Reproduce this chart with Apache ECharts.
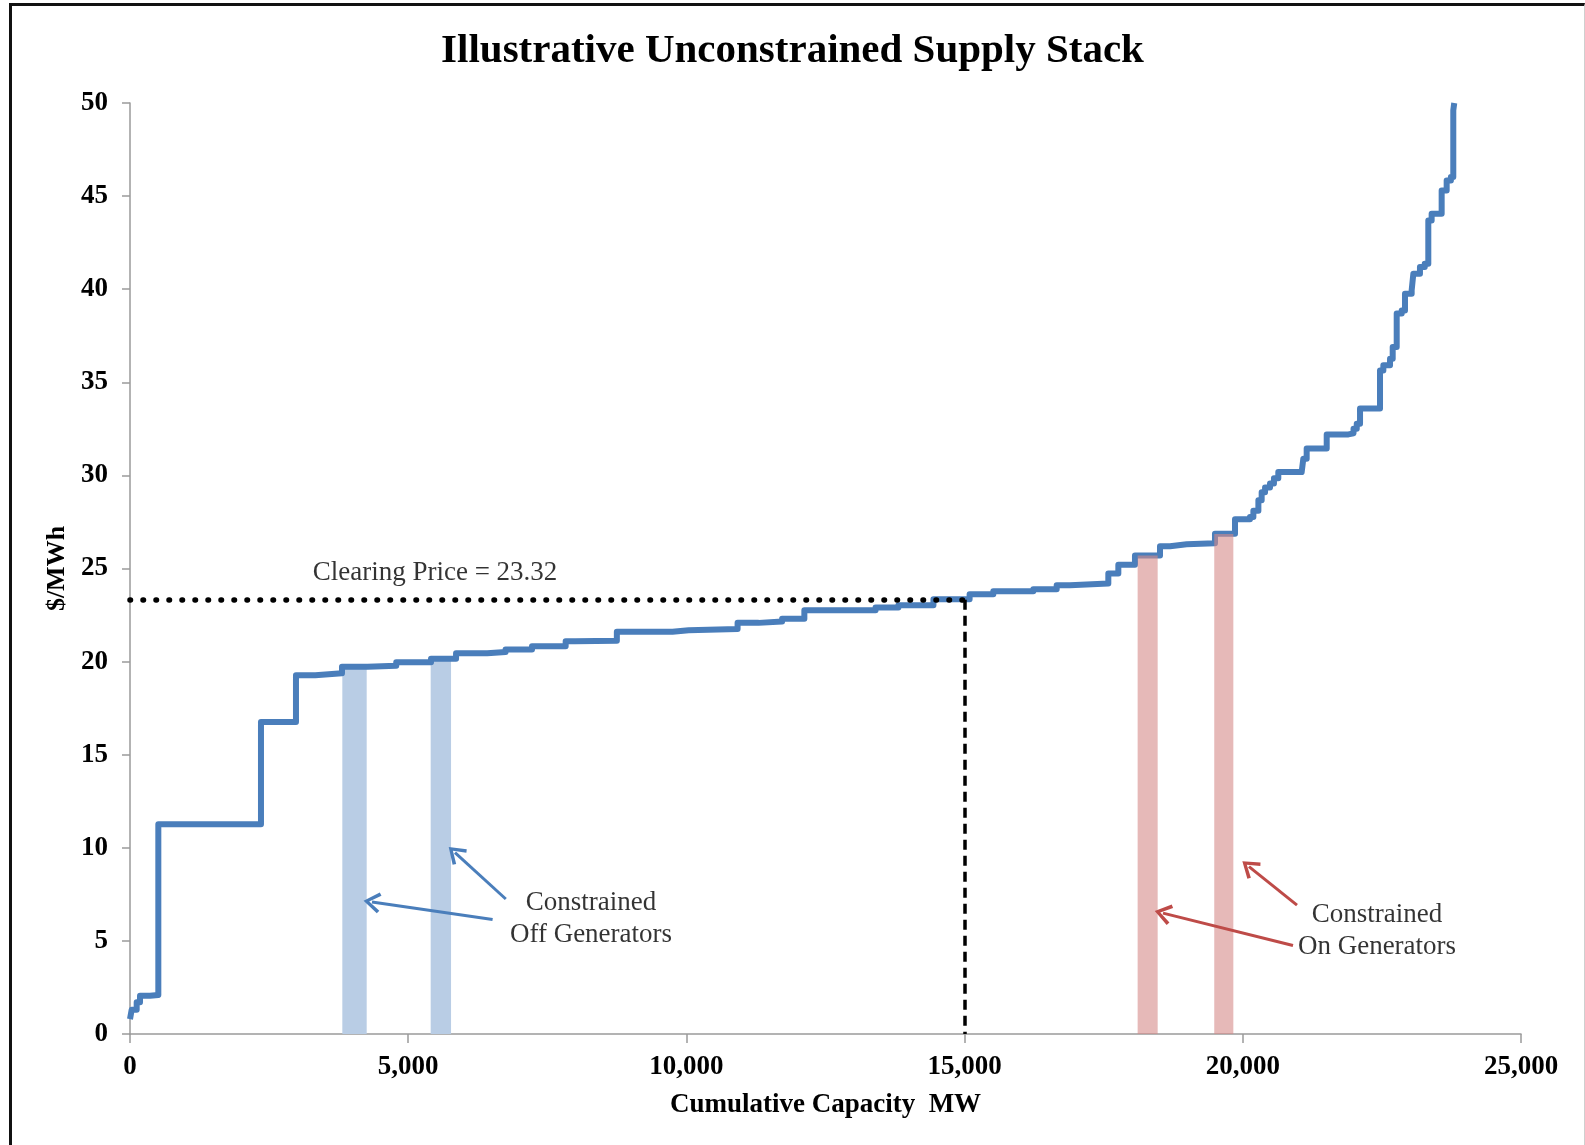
<!DOCTYPE html>
<html>
<head>
<meta charset="utf-8">
<title>Illustrative Unconstrained Supply Stack</title>
<script src="https://cdn.jsdelivr.net/npm/echarts@6/dist/echarts.min.js"></script>
<style>
  html, body { margin: 0; padding: 0; background: #fff; }
  #chart { position: absolute; left: 0; top: 0; width: 1585px; height: 1145px; }
  #frame {
    position: absolute; left: 9px; top: 3px; width: 1576px; height: 1150px;
    box-sizing: border-box; pointer-events: none;
    border-top: 3px solid #111; border-left: 3px solid #111; border-right: 1px solid #cfcfcf;
  }
</style>
</head>
<body>
<div id="chart"></div>
<div id="frame"></div>
<script>
  // supply stack: cumulative MW where each price level starts, and its $/MWh
  const capacityMW = [0, 30, 120, 180, 360, 509, 2354, 2983, 3330, 3810, 4270, 4785, 5410, 5860,
    6420, 6750, 7225, 7830, 8000, 8750, 9750, 10040, 10920, 11300, 11720, 12120, 13400, 13810,
    14440, 15090, 15516, 16235, 16655, 16894, 17583, 17763, 18062, 18512, 18692, 18991, 19500,
    19860, 20129, 20190, 20280, 20339, 20400, 20489, 20560, 20638, 21058, 21088, 21148, 21508,
    21898, 21990, 22048, 22107, 22466, 22526, 22646, 22694, 22766, 22856, 22915, 23035, 23065,
    23184, 23270, 23334, 23394, 23574, 23664, 23740, 23783, 23800]
  const priceUSD = [0.8, 1.3, 1.7, 2.05, 2.1, 11.26, 16.76, 19.27, 19.37, 19.72, 19.78, 19.97, 20.15, 20.45,
    20.52, 20.65, 20.83, 21.09, 21.12, 21.6, 21.68, 21.75, 22.08, 22.15, 22.3, 22.76, 22.9, 23.03,
    23.35, 23.62, 23.78, 23.89, 24.1, 24.2, 24.73, 25.2, 25.7, 26.2, 26.3, 26.35, 26.87,
    27.65, 27.77, 28.1, 28.66, 29.1, 29.35, 29.56, 29.85, 30.18, 30.27, 30.9, 31.44, 32.2,
    32.26, 32.5, 32.78, 33.59, 35.64, 35.91, 36.27, 36.9, 38.69, 38.86, 39.76, 39.94, 40.83,
    41.19, 41.37, 43.69, 44.05, 45.3, 45.84, 46.02, 49.6, 50]

  const clearingPrice = 23.32
  const clearingMW = 15000

  // [from MW, to MW, price at top]
  const offBands = [[3816, 4254, 19.75], [5404, 5770, 20.05]]
  const onBands = [[18110, 18470, 25.7], [19487, 19830, 26.85]]

  // annotation arrows: [tail, head] in [MW, $/MWh]
  const offArrows = [[[6517, 6.15], [4349, 7.09]], [[6754, 7.25], [5841, 9.74]]]
  const onArrows = [[[20902, 4.75], [18566, 6.49]], [[20974, 6.92], [20111, 8.99]]]

  // text labels: [MW, $/MWh, text]
  const notes = [
    [5482, 24.74, 'Clearing Price = ' + clearingPrice],
    [8285, 6.17, 'Constrained\nOff Generators'],
    [22412, 5.53, 'Constrained\nOn Generators']
  ]

  const xTicks = { min: 0, max: 25000, interval: 5000 }
  const yTicks = { min: 0, max: 50, interval: 5 }

  const serif = "'Times New Roman', 'Liberation Serif', serif"
  const axisGray = '#9a9a9a'
  const chevron = 'path://M5,0 L10,8.4 L8.6,9.6 L5,3.2 L1.4,9.6 L0,8.4 Z'

  const chart = echarts.init(document.getElementById('chart'))

  function bandSeries(bands, color, z) {
    return {
      type: 'custom',
      z: z,
      silent: true,
      data: bands,
      renderItem: (params, api) => {
        const p0 = api.coord([api.value(0), api.value(2)])
        const p1 = api.coord([api.value(1), 0])
        return {
          type: 'rect',
          shape: { x: p0[0], y: p0[1], width: p1[0] - p0[0], height: p1[1] - p0[1] },
          style: { fill: color }
        }
      }
    }
  }

  function arrowLines(arrows, color) {
    return {
      silent: true,
      symbol: ['none', chevron],
      symbolSize: [21, 17],
      label: { show: false },
      lineStyle: { color: color, width: 3, type: 'solid' },
      data: arrows.map(a => [{ coord: a[0] }, { coord: a[1] }])
    }
  }

  chart.setOption({
    animation: false,
    title: {
      text: 'Illustrative Unconstrained Supply Stack',
      left: 'center',
      top: 26,
      textStyle: { fontFamily: serif, fontSize: 41, fontWeight: 'bold', color: '#000' }
    },
    grid: { left: 130, right: 64, top: 103, bottom: 111 },
    xAxis: {
      type: 'value',
      min: xTicks.min,
      max: xTicks.max,
      interval: xTicks.interval,
      name: 'Cumulative Capacity  MW',
      nameLocation: 'middle',
      nameGap: 58,
      nameTextStyle: { fontFamily: serif, fontSize: 27, fontWeight: 'bold', color: '#000' },
      axisLine: { lineStyle: { color: axisGray, width: 1.5 } },
      axisTick: { show: true, length: 9, lineStyle: { color: axisGray, width: 1.5 } },
      splitLine: { show: false },
      axisLabel: {
        margin: 20,
        fontFamily: serif, fontSize: 27, fontWeight: 'bold', color: '#000',
        formatter: v => v.toLocaleString('en-US')
      }
    },
    yAxis: {
      type: 'value',
      min: yTicks.min,
      max: yTicks.max,
      interval: yTicks.interval,
      name: '$/MWh',
      nameLocation: 'middle',
      nameGap: 58,
      nameTextStyle: { fontFamily: serif, fontSize: 26, fontWeight: 'bold', color: '#000' },
      axisLine: { show: true, lineStyle: { color: axisGray, width: 1.5 } },
      axisTick: { show: true, length: 8, lineStyle: { color: axisGray, width: 1.5 } },
      splitLine: { show: false },
      axisLabel: { margin: 22, fontFamily: serif, fontSize: 27, fontWeight: 'bold', color: '#000' }
    },
    series: [
      bandSeries(offBands, '#b9cde5', 1),
      {
        name: 'Supply',
        type: 'line',
        z: 2,
        step: 'end',
        showSymbol: false,
        silent: true,
        data: capacityMW.map((mw, i) => [mw, priceUSD[i]]),
        lineStyle: { color: '#4a7ebb', width: 6, join: 'round' }
      },
      bandSeries(onBands, 'rgba(213,138,137,0.6)', 3),
      {
        name: 'Clearing',
        type: 'line',
        z: 4,
        data: [],
        markLine: {
          silent: true,
          symbol: ['none', 'none'],
          label: { show: false },
          data: [
            [{ coord: [0, clearingPrice], lineStyle: { type: [0.5, 12.5], cap: 'round', width: 5.5, color: '#000' } },
             { coord: [clearingMW, clearingPrice] }],
            [{ coord: [clearingMW, clearingPrice], lineStyle: { type: [10, 6], width: 3.5, color: '#000' } },
             { coord: [clearingMW, 0] }]
          ]
        }
      },
      { type: 'line', z: 4, data: [], markLine: arrowLines(offArrows, '#4a7ebb') },
      { type: 'line', z: 4, data: [], markLine: arrowLines(onArrows, '#be4b48') },
      {
        type: 'scatter',
        z: 5,
        silent: true,
        symbolSize: 0,
        data: notes.map(n => ({ value: [n[0], n[1]], name: n[2] })),
        label: {
          show: true,
          position: 'inside',
          formatter: p => p.name,
          fontFamily: serif,
          fontSize: 27,
          lineHeight: 32,
          color: '#000',
          textBorderWidth: 0,
          align: 'center'
        }
      }
    ]
  })
</script>
</body>
</html>
